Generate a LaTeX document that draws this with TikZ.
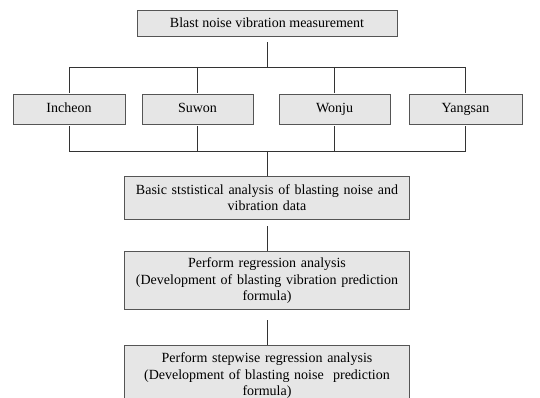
\documentclass[tikz,border=0pt]{standalone}
\usepackage{fontspec}
\setmainfont{Liberation Serif}
\usetikzlibrary{positioning}
\definecolor{boxfill}{RGB}{230,230,230}
\definecolor{boxline}{RGB}{85,85,85}

\begin{document}
\begin{tikzpicture}[x=1pt, y=-1pt,
		base/.style = {draw=boxline, fill=boxfill, line width=0.9pt, inner sep=0pt, align=center, font=\fontsize{14}{16.5}\selectfont} , 
		city/.style = {rectangle, base, minimum height=30pt, text height=10pt, text depth=3pt},
		wide/.style = {rectangle, base, minimum width=285pt, text width=280pt},
		link/.style = {draw=black!80, line width=0.9pt}
		]
		\clip (0,0) rectangle (540,398);
		\node (M) [rectangle, base, minimum width=260pt, minimum height=26pt] at (267,23) {Blast noise vibration measurement};
		\node (I) [city, minimum width=112pt] at (69,109) {Incheon};
		\node (S) [city, minimum width=111pt] at (197.5,109) {Suwon};
		\node (W) [city, minimum width=111pt] at (334.5,109) {Wonju};
		\node (Y) [city, minimum width=113pt] at (465.5,109) {Yangsan};
		\node (B) [wide, minimum height=43pt] at (267,197.5) {Basic ststistical analysis of blasting noise and\\vibration data};
		\node (R) [wide, minimum height=58pt, below=32pt of B] {Perform regression analysis\\(Development of blasting vibration prediction\\formula)};
		\node (P) [wide, minimum height=60pt, below=35pt of R] {Perform stepwise regression analysis\\(Development of blasting noise~ prediction\\formula)};
		\coordinate (T1) at (267,67);
		\coordinate (T2) at (267,151);
		
		\draw[link, shorten <=6pt] (M.south) -- (T1);
		\draw[link] (I.north |- T1) -- (Y.north |- T1);
		\draw[link, shorten >=1pt] (I.north |- T1) -- (I.north);
		\draw[link, shorten >=1pt] (S.north |- T1) -- (S.north);
		\draw[link, shorten >=1pt] (W.north |- T1) -- (W.north);
		\draw[link, shorten >=1pt] (Y.north |- T1) -- (Y.north);
		\draw[link, shorten <=2pt] (I.south) -- (I.south |- T2);
		\draw[link, shorten <=2pt] (S.south) -- (S.south |- T2);
		\draw[link, shorten <=2pt] (W.south) -- (W.south |- T2);
		\draw[link, shorten <=2pt] (Y.south) -- (Y.south |- T2);
		\draw[link] (I.south |- T2) -- (Y.south |- T2);
		\draw[link] (T2) -- (B.north);
		\draw[link, shorten <=7pt] (B.south) -- (R.north);
		\draw[link, shorten <=10pt] (R.south) -- (P.north);
	\end{tikzpicture}
\end{document}
